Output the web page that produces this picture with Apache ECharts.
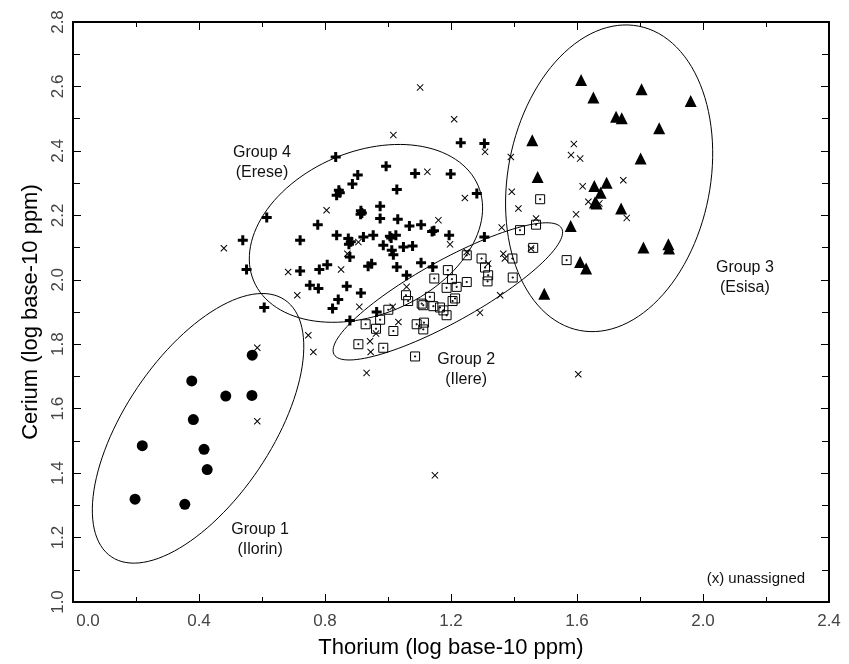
<!DOCTYPE html>
<html>
<head>
<meta charset="utf-8">
<script src="https://cdn.jsdelivr.net/npm/echarts@6/dist/echarts.min.js"></script>
<style>
  html, body { margin: 0; padding: 0; background: #fff; }
  #chart { width: 849px; height: 664px; }
</style>
</head>
<body>
<div id="chart"></div>
<script>
// [thorium, cerium] in log10 ppm
const group1 = [
  [0.569, 1.766], [0.377, 1.686], [0.485, 1.639], [0.568, 1.641], [0.382, 1.566],
  [0.220, 1.485], [0.416, 1.474], [0.426, 1.411], [0.197, 1.319], [0.355, 1.303]
];
const group2 = [
  [1.483, 2.250], [1.419, 2.154], [1.470, 2.171], [1.461, 2.099], [1.395, 2.066],
  [1.396, 2.007], [1.567, 2.061], [1.297, 2.066], [1.318, 2.014], [1.316, 1.995],
  [1.308, 2.038], [1.250, 2.076], [1.190, 2.030], [1.147, 2.004], [1.203, 2.002],
  [1.250, 1.993], [1.186, 1.975], [1.218, 1.978], [1.213, 1.942], [1.205, 1.934],
  [1.133, 1.947], [1.057, 1.952], [1.064, 1.934], [1.107, 1.926], [1.112, 1.921],
  [1.144, 1.918], [1.165, 1.914], [1.176, 1.905], [1.186, 1.890], [1.091, 1.862],
  [1.114, 1.867], [1.112, 1.846], [1.001, 1.907], [0.975, 1.876], [0.962, 1.848],
  [0.929, 1.862], [1.017, 1.841], [0.906, 1.800], [0.985, 1.789], [1.086, 1.762]
];
const group3 = [
  [1.613, 2.620], [1.652, 2.566], [1.805, 2.591], [1.961, 2.555], [1.724, 2.506],
  [1.742, 2.501], [1.861, 2.470], [1.458, 2.433], [1.802, 2.376], [1.475, 2.319],
  [1.655, 2.291], [1.694, 2.301], [1.675, 2.270], [1.657, 2.240], [1.662, 2.237],
  [1.740, 2.221], [1.580, 2.167], [1.811, 2.100], [1.890, 2.110], [1.892, 2.097],
  [1.610, 2.055], [1.629, 2.035], [1.496, 1.957]
];
const group4 = [
  [0.834, 2.381], [0.994, 2.352], [1.086, 2.330], [1.199, 2.328], [0.904, 2.325],
  [0.887, 2.297], [1.028, 2.280], [0.844, 2.278], [0.837, 2.262], [1.282, 2.268],
  [0.975, 2.228], [0.914, 2.214], [0.913, 2.203], [0.917, 2.207], [0.615, 2.193],
  [0.777, 2.171], [0.975, 2.190], [1.031, 2.188], [1.068, 2.167], [1.105, 2.171],
  [1.146, 2.152], [1.140, 2.150], [1.194, 2.138], [0.539, 2.123], [0.721, 2.123],
  [0.837, 2.138], [0.874, 2.128], [0.882, 2.118], [0.922, 2.133], [0.953, 2.138],
  [0.876, 2.110], [1.006, 2.135], [1.010, 2.130], [1.025, 2.138], [0.985, 2.107],
  [1.012, 2.092], [1.049, 2.102], [1.078, 2.105], [1.017, 2.078], [0.879, 2.071],
  [1.105, 2.053], [1.142, 2.040], [1.306, 2.133], [1.028, 2.040], [0.937, 2.042],
  [0.948, 2.050], [0.782, 2.032], [0.807, 2.047], [0.721, 2.027], [0.551, 2.032],
  [1.059, 2.014], [0.752, 1.983], [0.779, 1.973], [0.869, 1.980], [0.914, 1.959],
  [0.842, 1.939], [0.824, 1.911], [0.607, 1.914], [0.964, 1.900], [0.879, 1.874],
  [1.231, 2.425], [1.306, 2.423], [0.847, 2.270]
];
const unassigned = [
  [0.585, 1.789], [0.585, 1.561], [0.712, 1.952], [0.747, 1.828], [0.763, 1.776],
  [1.210, 2.498], [1.017, 2.449], [1.102, 2.597], [1.308, 2.397], [1.125, 2.335],
  [1.244, 2.254], [0.805, 2.216], [1.160, 2.185], [1.197, 2.110], [0.906, 2.117],
  [0.871, 2.081], [0.683, 2.024], [0.851, 2.032], [0.479, 2.098], [0.909, 1.916],
  [1.015, 1.916], [1.059, 1.978], [1.250, 2.086], [1.318, 2.050], [1.366, 2.081],
  [1.371, 2.066], [1.356, 1.952], [1.292, 1.898], [0.962, 1.833], [1.033, 1.869],
  [0.943, 1.809], [0.945, 1.776], [0.932, 1.711], [1.361, 2.162], [1.454, 2.097],
  [1.470, 2.190], [1.414, 2.221], [1.393, 2.273], [1.390, 2.381], [1.590, 2.421],
  [1.581, 2.387], [1.610, 2.376], [1.747, 2.309], [1.618, 2.290], [1.636, 2.242],
  [1.671, 2.237], [1.758, 2.192], [1.597, 2.203], [1.604, 1.707], [1.149, 1.393]
];

// group ellipses: centre x, centre y, semi-axes (thorium units), tilt in degrees
const ellipses = [
  [0.397, 1.539, 0.492, 0.232, 56],
  [1.190, 1.964, 0.413, 0.098, 29],
  [1.702, 2.315, 0.492, 0.321, 79],
  [0.930, 2.144, 0.387, 0.259, 23]
];
const labelPos = [[0.600, 2.365], [1.248, 1.720], [2.133, 2.008], [0.594, 1.194], [2.324, 1.073]];
const labelText = ['Group 4\n(Erese)', 'Group 2\n(Ilere)', 'Group 3\n(Esisa)', 'Group 1\n(Ilorin)', '(x) unassigned'];

const FONT = 'Liberation Sans, Arial, sans-serif';
const tickCol = '#000';

const chart = echarts.init(document.getElementById('chart'));

function frameAxis(extra) {
  return Object.assign({
    type: 'value',
    axisLine: { show: true, onZero: false, lineStyle: { color: '#000', width: 2 } },
    axisTick: { show: true, inside: true, length: 8, lineStyle: { color: tickCol } },
    minorTick: { show: true, splitNumber: 2, length: 5, lineStyle: { color: tickCol } },
    splitLine: { show: false },
    minorSplitLine: { show: false }
  }, extra);
}

const option = {
  animation: false,
  backgroundColor: '#fff',
  grid: { left: 73, right: 20, top: 22, bottom: 62, containLabel: false, outerBoundsMode: 'none' },
  xAxis: [
    frameAxis({
      position: 'bottom', min: 0, max: 2.4, interval: 0.4,
      name: 'Thorium (log base-10 ppm)', nameLocation: 'middle', nameGap: 35,
      nameTextStyle: { fontSize: 22, color: '#000', fontFamily: FONT },
      axisLabel: {
        margin: 11, fontSize: 17, color: '#444', fontFamily: FONT,
        formatter: v => v === 0 ? '{f|0.0}' : v.toFixed(1),
        rich: { f: { padding: [0, 0, 0, 30], fontSize: 17, color: '#444', fontFamily: FONT } }
      }
    }),
    frameAxis({ position: 'top', min: 0, max: 2.4, interval: 0.4, axisLabel: { show: false } })
  ],
  yAxis: [
    frameAxis({
      position: 'left', min: 1.0, max: 2.8, interval: 0.2,
      name: 'Cerium (log base-10 ppm)', nameLocation: 'middle', nameGap: 31,
      nameTextStyle: { fontSize: 22, color: '#000', fontFamily: FONT },
      minorTick: { show: true, splitNumber: 2, length: 7, lineStyle: { color: tickCol } },
      axisLabel: { rotate: 90, margin: 6, fontSize: 17, color: '#444', fontFamily: FONT, formatter: v => v.toFixed(1) }
    }),
    frameAxis({
      position: 'right', min: 1.0, max: 2.8, interval: 0.2, axisLabel: { show: false },
      minorTick: { show: true, splitNumber: 2, length: 7, lineStyle: { color: tickCol } }
    })
  ],
  series: [
    {
      type: 'custom', name: 'ellipses', silent: true, data: ellipses,
      renderItem(params, api) {
        const c = api.coord([api.value(0), api.value(1)]);
        const rx = api.size([api.value(2), 0])[0];
        const ry = api.size([api.value(3), 0])[0];
        const a = api.value(4) * Math.PI / 180;
        const pts = [];
        for (let i = 0; i < 120; i++) {
          const t = i / 120 * Math.PI * 2;
          const ex = rx * Math.cos(t), ey = ry * Math.sin(t);
          pts.push([c[0] + ex * Math.cos(a) - ey * Math.sin(a), c[1] - (ex * Math.sin(a) + ey * Math.cos(a))]);
        }
        return { type: 'polygon', shape: { points: pts }, style: { fill: 'none', stroke: '#000', lineWidth: 1 } };
      }
    },
    {
      type: 'scatter', name: 'Unassigned', data: unassigned, symbolSize: 7,
      symbol: 'path://M0,1L1,0L5,4L9,0L10,1L6,5L10,9L9,10L5,6L1,10L0,9L4,5Z',
      itemStyle: { color: '#000', opacity: 1 }
    },
    {
      type: 'scatter', name: 'Group 2', data: group2, symbolSize: 9,
      symbol: 'path://M0,0H10V10H0Z M4.4,4.4H5.6V5.6H4.4Z',
      itemStyle: { color: 'rgba(0,0,0,0)', borderColor: '#000', borderWidth: 1, opacity: 1 }
    },
    {
      type: 'scatter', name: 'Group 4', data: group4, symbolSize: 10,
      symbol: 'path://M3.5,0H6.5V3.5H10V6.5H6.5V10H3.5V6.5H0V3.5H3.5Z',
      itemStyle: { color: '#000', opacity: 1 }
    },
    {
      type: 'scatter', name: 'Group 1', data: group1, symbol: 'circle', symbolSize: 11,
      itemStyle: { color: '#000', opacity: 1 }
    },
    {
      type: 'scatter', name: 'Group 3', data: group3, symbol: 'triangle', symbolSize: 12,
      itemStyle: { color: '#000', opacity: 1 }
    },
    {
      type: 'custom', name: 'labels', silent: true, data: labelPos,
      renderItem(params, api) {
        const c = api.coord([api.value(0), api.value(1)]);
        const last = params.dataIndex === labelText.length - 1;
        return {
          type: 'text', x: c[0], y: c[1],
          style: {
            text: labelText[params.dataIndex], align: last ? 'right' : 'center', verticalAlign: 'middle',
            fontSize: last ? 15 : 16, lineHeight: 20, fontFamily: FONT, fill: '#111'
          }
        };
      }
    }
  ]
};

chart.setOption(option);
</script>
</body>
</html>
